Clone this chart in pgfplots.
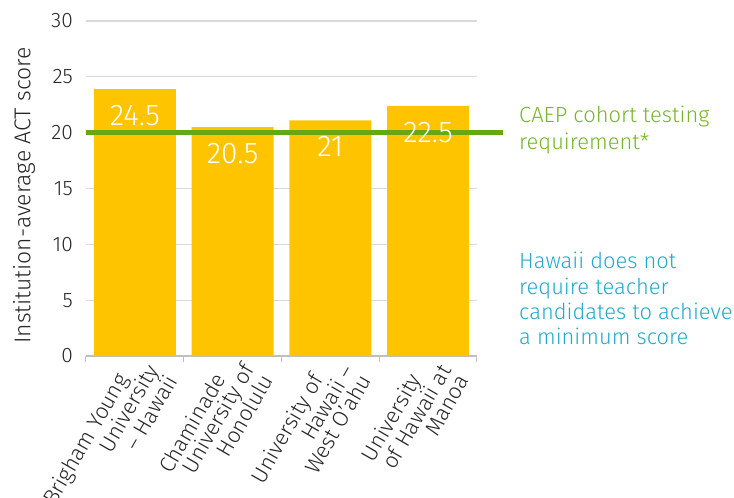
\documentclass[border=0pt]{standalone}
\usepackage{pgfplots}
\pgfplotsset{compat=1.18}
\usepackage{pgfplotstable}
\usepackage{fontspec}
\setmainfont{Fira Sans}[UprightFont={* Light}]
\definecolor{baryellow}{HTML}{FFC400}
\definecolor{linegreen}{HTML}{66A80F}
\definecolor{textgreen}{HTML}{76B52A}
\definecolor{textblue}{HTML}{22AACB}
\definecolor{gridgray}{HTML}{D9D9D9}
\definecolor{axisgray}{HTML}{BFBFBF}
\definecolor{darktext}{HTML}{262626}
\pgfplotstableread{
x y label
0 23.9 24.5
1 20.5 20.5
2 21.1 21
3 22.4 22.5
}\scores
\begin{document}
\begin{tikzpicture}
\begin{axis}[
  scale only axis, width=391bp, height=335bp,
  xmin=-0.5, xmax=3.5, ymin=0, ymax=30,
  ytick={0,5,...,30},
  xtick={0,1,2,3},
  xticklabels={{Brigham Young\hspace*{23bp}\\University\hspace*{11.5bp}\\– Hawaii},
               {Chaminade\hspace*{23bp}\\University of\hspace*{11.5bp}\\Honolulu},
               {University of\hspace*{23bp}\\Hawaii –\hspace*{11.5bp}\\West O’ahu},
               {University\hspace*{23bp}\\of Hawaii at\hspace*{11.5bp}\\Manoa}},
  minor xtick={-0.5,0.5,1.5,2.5,3.5},
  major tick length=0pt, minor tick length=6bp,
  tick align=outside,
  minor tick style={axisgray, line width=1bp},
  axis x line*=bottom, axis y line*=left,
  x axis line style={axisgray, line width=1.2bp, -},
  y axis line style={draw=none},
  ymajorgrids, grid style={gridgray, line width=1.2bp},
  clip=false,
  tick label style={font=\fontsize{21}{19}\selectfont, text=darktext},
  /pgf/number format/assume math mode=true,
  yticklabel style={inner sep=0pt, xshift=-13bp},
  xticklabel style={xshift=-9bp, yshift=5bp, rotate=60, anchor=north east, align=right, inner sep=0pt, font=\fontsize{22}{20}\selectfont},
  ylabel={Institution-average ACT score},
  ylabel style={at={([xshift=-62bp,yshift=-7bp]axis description cs:0,0.5)}, anchor=center, font=\fontsize{23}{26}\selectfont, text=darktext},
]
\addplot[ybar, bar width=82bp, bar shift=0pt, fill=baryellow, draw=none] table[x=x,y=y]{\scores};
\addplot[linegreen, line width=4.5bp] coordinates {(-0.5,20) (3.77,20)};
\addplot[ybar, bar width=82bp, bar shift=0pt, draw=none, fill=none,
  nodes near coords, point meta=explicit symbolic,
  every node near coord/.append style={anchor=north, inner sep=0pt, yshift=-16bp, text=white, font=\fontsize{30}{32}\selectfont}]
  table[x=x,y=y,meta=label]{\scores};
\coordinate (ll) at (rel axis cs:0,0);
\end{axis}
\node[anchor=north west, inner sep=0pt, align=left, text=textgreen, font=\fontsize{22}{27}\selectfont]
  at ([shift={(433bp,250bp)}]ll) {CAEP cohort testing\\requirement*};
\node[anchor=north west, inner sep=0pt, align=left, text=textblue, font=\fontsize{22}{25.5}\selectfont]
  at ([shift={(433bp,104bp)}]ll) {Hawaii does not\\require teacher\\candidates to achieve\\a minimum score};
\pgfresetboundingbox
\path ([shift={(-86bp,-142bp)}]ll) rectangle ([shift={(648bp,356bp)}]ll);
\end{tikzpicture}
\end{document}
